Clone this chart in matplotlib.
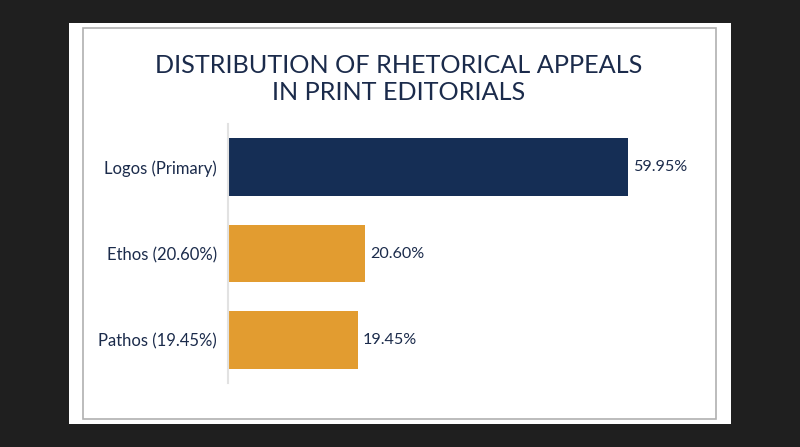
import matplotlib
matplotlib.use("Agg")
import matplotlib.pyplot as plt
from matplotlib.patches import Rectangle

categories = ["Logos (Primary)", "Ethos (20.60%)", "Pathos (19.45%)"]
values = [59.95, 20.60, 19.45]
value_labels = ["59.95%", "20.60%", "19.45%"]
colors = ["#152e55", "#e29c30", "#e29c30"]
title = "DISTRIBUTION OF RHETORICAL APPEALS\nIN PRINT EDITORIALS"

plt.rcParams['font.family'] = ['Lato', 'DejaVu Sans']
W, H = 800, 447
fig = plt.figure(figsize=(W/100, H/100), dpi=100)
fig.patch.set_facecolor("#1f1f1f")

# white card
fig.patches.append(Rectangle((69/W, 1-424/H), (731-69)/W, (424-23)/H,
                             transform=fig.transFigure, facecolor="white",
                             edgecolor="none", zorder=-2))
# inner border
fig.patches.append(Rectangle((83/W, 1-419/H), (716-83)/W, (419-28)/H,
                             transform=fig.transFigure, facecolor="none",
                             edgecolor="#b0b0b0", linewidth=1.2, zorder=-1))

text_color = "#1b2b4b"
fig.text(398.5/W, 1-79/H, title, ha="center", va="center", fontsize=18.2,
         color=text_color, linespacing=1.2)

ax = fig.add_axes([228/W, 64/H, 467/W, 259/H])
ax.set_facecolor("none")
y = list(range(len(categories)))
bars = ax.barh(y, values, height=0.67, color=colors)
ax.set_ylim(len(categories)-0.5, -0.5)
ax.set_xlim(0, 70)
ax.set_yticks(y)
ax.set_yticklabels(categories, fontsize=12, color=text_color)
ax.tick_params(axis="y", length=0, pad=8)
ax.set_xticks([])
for s in ["top", "right", "bottom"]:
    ax.spines[s].set_visible(False)
ax.spines["left"].set_color("#e2e2e2")
ax.spines["left"].set_linewidth(1.5)
for b, lab in zip(bars, value_labels):
    ax.text(b.get_width() + 0.75, b.get_y() + b.get_height()/2, lab,
            va="center", ha="left", fontsize=11.6, color=text_color)

fig.savefig("out.png", dpi=100, facecolor=fig.get_facecolor())
